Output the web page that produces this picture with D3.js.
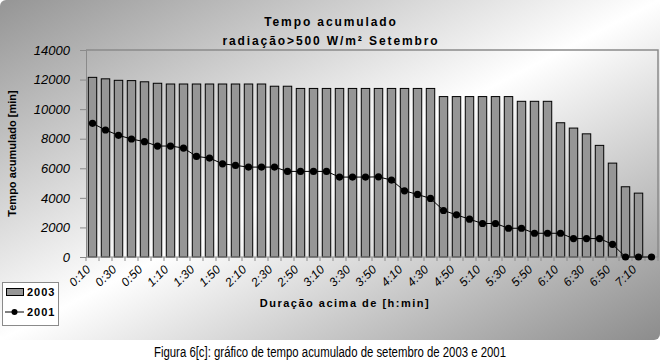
<!DOCTYPE html>
<html>
<head>
<meta charset="utf-8">
<script src="https://cdn.jsdelivr.net/npm/d3@7"></script>
<style>
  body { margin: 0; background: #fff; }
  svg { display: block; font-family: "Liberation Sans", Arial, sans-serif; }
</style>
</head>
<body>
<div id="chart"></div>
<script>
// durations, every 10 minutes
const categories = ["0:10","0:20","0:30","0:40","0:50","1:00","1:10","1:20","1:30","1:40","1:50","2:00",
  "2:10","2:20","2:30","2:40","2:50","3:00","3:10","3:20","3:30","3:40","3:50","4:00",
  "4:10","4:20","4:30","4:40","4:50","5:00","5:10","5:20","5:30","5:40","5:50","6:00",
  "6:10","6:20","6:30","6:40","6:50","7:00","7:10","7:20"];

// 2003 (bars)
const values2003 = [12150,12050,11950,11930,11850,11750,11700,11700,11700,11700,11700,11700,
  11700,11700,11550,11550,11400,11400,11400,11400,11400,11400,11400,11400,
  11400,11400,11400,10850,10850,10850,10850,10850,10850,10530,10530,10530,
  9080,8720,8330,7550,6350,4750,4320,null];

// 2001 (line)
const values2001 = [9040,8590,8230,7980,7800,7505,7505,7370,6805,6690,6305,6195,
  6080,6080,6080,5790,5790,5790,5790,5405,5405,5405,5420,5200,
  4475,4230,3960,3145,2850,2555,2265,2265,1945,1945,1605,1605,
  1605,1245,1245,1245,860,0,0,0];

const yTicks = [0,2000,4000,6000,8000,10000,12000,14000];

const W = 660, H = 364;
const plot = {left: 86, right: 658, top: 50, bottom: 257};

const svg = d3.select("#chart").append("svg")
  .attr("width", W).attr("height", H);

const defs = svg.append("defs");
const grad = defs.append("linearGradient")
  .attr("id", "bg").attr("x1", 0).attr("y1", 0).attr("x2", 1).attr("y2", 1);
grad.append("stop").attr("offset", 0).attr("stop-color", "#959595");
grad.append("stop").attr("offset", 0.5).attr("stop-color", "#ffffff");
grad.append("stop").attr("offset", 1).attr("stop-color", "#8c8c8c");

svg.append("rect")
  .attr("x", 0).attr("y", 0).attr("width", W).attr("height", 340)
  .attr("rx", 6)
  .attr("fill", "url(#bg)");

const x = d3.scaleBand()
  .domain(categories)
  .range([plot.left, plot.right])
  .paddingInner(0.35)
  .paddingOuter(0.175);

const xEdge = d3.scaleLinear()
  .domain([0, categories.length])
  .range([plot.left, plot.right]);

const y = d3.scaleLinear()
  .domain([0, 14000])
  .range([plot.bottom, plot.top]);

// plot border (top and right)
svg.append("path")
  .attr("d", `M${plot.left},${plot.top}H${plot.right}V${plot.bottom}`)
  .attr("fill", "none")
  .attr("stroke", "#8a8a8a")
  .attr("stroke-width", 1.5);

// y axis
const yAxis = svg.append("g")
  .attr("transform", `translate(${plot.left},0)`)
  .call(d3.axisLeft(y).tickValues(yTicks).tickSize(6).tickPadding(10).tickFormat(d3.format("d")));
yAxis.select(".domain").attr("stroke", "#8a8a8a");
yAxis.selectAll(".tick line").attr("stroke", "#8a8a8a");
yAxis.selectAll(".tick text")
  .attr("font-size", 13)
  .attr("font-style", "italic")
  .attr("fill", "#000");

// bars
svg.append("g").selectAll("rect")
  .data(categories.map((c, i) => ({c, v: values2003[i]})).filter(d => d.v != null))
  .enter()
  .append("rect")
    .attr("x", d => x(d.c))
    .attr("y", d => y(d.v))
    .attr("width", x.bandwidth())
    .attr("height", d => y(0) - y(d.v))
    .attr("fill", "#969696")
    .attr("stroke", "#000")
    .attr("stroke-width", 1);

// x axis
const xAxis = svg.append("g")
  .attr("transform", `translate(0,${plot.bottom})`);
xAxis.append("line")
  .attr("x1", plot.left).attr("x2", plot.right)
  .attr("stroke", "#8a8a8a");
xAxis.selectAll(".tk")
  .data(d3.range(categories.length + 1))
  .enter()
  .append("line")
    .attr("x1", i => xEdge(i)).attr("x2", i => xEdge(i))
    .attr("y1", 0).attr("y2", 4)
    .attr("stroke", "#8a8a8a");
xAxis.selectAll(".lbl")
  .data(categories.filter((c, i) => i % 2 === 0))
  .enter()
  .append("text")
    .attr("transform", c => `translate(${x(c) + x.bandwidth() / 2 - 4},10) rotate(-45)`)
    .attr("text-anchor", "end")
    .attr("dy", "0.35em")
    .attr("font-size", 12)
    .attr("letter-spacing", 0.3)
    .attr("font-style", "italic")
    .text(c => c);

// 2001 line
const cx = c => x(c) + x.bandwidth() / 2;
const line = d3.line()
  .x((d, i) => cx(categories[i]))
  .y(d => y(d));
svg.append("path")
  .datum(values2001)
  .attr("d", line)
  .attr("fill", "none")
  .attr("stroke", "#000")
  .attr("stroke-width", 1);
svg.append("g").selectAll("circle")
  .data(values2001)
  .enter()
  .append("circle")
    .attr("cx", (d, i) => cx(categories[i]))
    .attr("cy", d => y(d))
    .attr("r", 3.6)
    .attr("fill", "#000");

// titles
const title = svg.append("text")
  .attr("text-anchor", "middle")
  .attr("font-weight", "bold")
  .attr("font-size", 12)
  .attr("letter-spacing", 1.9);
title.append("tspan").attr("x", 331).attr("y", 26).text("Tempo acumulado");
title.append("tspan").attr("x", 331).attr("y", 45).text("radiação>500 W/m² Setembro");

svg.append("text")
  .attr("transform", `translate(16,${(plot.top + plot.bottom) / 2}) rotate(-90)`)
  .attr("text-anchor", "middle")
  .attr("font-weight", "bold")
  .attr("font-size", 11)
  .text("Tempo acumulado [min]");

svg.append("text")
  .attr("x", 345).attr("y", 307)
  .attr("text-anchor", "middle")
  .attr("font-weight", "bold")
  .attr("font-size", 11)
  .attr("letter-spacing", 1.5)
  .text("Duração acima de [h:min]");

// legend
const legend = svg.append("g");
legend.append("rect")
  .attr("x", 2.5).attr("y", 282.5).attr("width", 56).attr("height", 43)
  .attr("fill", "#fff").attr("stroke", "#8a8a8a");
legend.append("rect")
  .attr("x", 6.5).attr("y", 288.5).attr("width", 17).attr("height", 7)
  .attr("fill", "#969696").attr("stroke", "#000");
legend.append("text")
  .attr("x", 27).attr("y", 296)
  .attr("font-weight", "bold").attr("font-size", 11).attr("letter-spacing", 1)
  .text("2003");
legend.append("line")
  .attr("x1", 5).attr("x2", 24).attr("y1", 312).attr("y2", 312)
  .attr("stroke", "#000");
legend.append("circle")
  .attr("cx", 14.5).attr("cy", 312).attr("r", 3).attr("fill", "#000");
legend.append("text")
  .attr("x", 27).attr("y", 316)
  .attr("font-weight", "bold").attr("font-size", 11).attr("letter-spacing", 1)
  .text("2001");

// caption
svg.append("text")
  .attr("x", 330).attr("y", 357)
  .attr("text-anchor", "middle")
  .attr("font-size", 14)
  .attr("textLength", 352)
  .attr("lengthAdjust", "spacingAndGlyphs")
  .text("Figura 6[c]: gráfico de tempo acumulado de setembro de 2003 e 2001");
</script>
</body>
</html>
